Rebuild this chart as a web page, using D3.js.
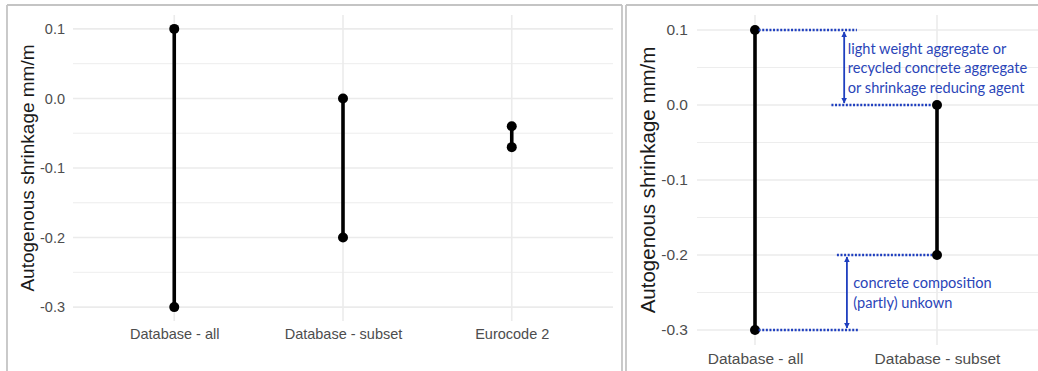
<!DOCTYPE html>
<html><head><meta charset="utf-8">
<script src="https://cdn.jsdelivr.net/npm/d3@7"></script>
<style>body{margin:0;background:#fff}svg{display:block}</style>
</head><body>
<script>
// ---- data ----
const categoriesLeft = ["Database - all", "Database - subset", "Eurocode 2"];
const maxLeft = [0.1, 0.0, -0.04];
const minLeft = [-0.3, -0.2, -0.07];
const categoriesRight = ["Database - all", "Database - subset"];
const maxRight = [0.1, 0.0];
const minRight = [-0.3, -0.2];
const yTicks = [0.1, 0.0, -0.1, -0.2, -0.3];
const yMinorTicks = [0.05, -0.05, -0.15, -0.25];
const yDomain = [-0.32, 0.12];
const yTitle = "Autogenous shrinkage mm/m";
const noteTop = ["light weight aggregate or", "recycled concrete aggregate", "or shrinkage reducing agent"];
const noteBottom = ["concrete composition", "(partly) unkown"];

const W = 1038, H = 371;
const svg = d3.select("body").append("svg").attr("width", W).attr("height", H);
const grid = "#ebebeb", tickCol = "#4d4d4d", border = "#c4c4c4", blue = "#1f3fbf";
const fmt = d3.format(".1f");

function panel(o) {
  const g = svg.append("g");
  const x = d3.scalePoint().domain(o.cats).range([o.x0, o.x1]).padding(o.pad);
  const y = d3.scaleLinear().domain(yDomain).range([o.y1, o.y0]);
  g.selectAll(".mn").data(yMinorTicks).join("line")
    .attr("x1", o.gx0).attr("x2", o.gx1).attr("y1", d => y(d)).attr("y2", d => y(d))
    .attr("stroke", grid).attr("stroke-width", 0.9);
  g.selectAll(".mj").data(yTicks).join("line")
    .attr("x1", o.gx0).attr("x2", o.gx1).attr("y1", d => y(d)).attr("y2", d => y(d))
    .attr("stroke", grid).attr("stroke-width", 1.6);
  g.selectAll(".vg").data(o.cats).join("line")
    .attr("x1", d => x(d)).attr("x2", d => x(d)).attr("y1", o.y0).attr("y2", o.y1)
    .attr("stroke", grid).attr("stroke-width", 1.6);
  const ya = g.append("g").attr("transform", `translate(${o.gx0},0)`)
    .call(d3.axisLeft(y).tickValues(yTicks).tickFormat(d => fmt(d).replace("−", "-")).tickSize(0).tickPadding(o.tpad));
  ya.select(".domain").remove();
  ya.selectAll("text").attr("fill", tickCol).style("font-family", "Liberation Sans, Arial, sans-serif").style("font-size", o.fs + "px");
  const xa = g.append("g").attr("transform", `translate(0,${o.y1})`)
    .call(d3.axisBottom(x).tickSize(0).tickPadding(o.xpad));
  xa.select(".domain").remove();
  xa.selectAll("text").attr("fill", tickCol).style("font-family", "Liberation Sans, Arial, sans-serif").style("font-size", o.fs + "px");
  g.append("text").attr("transform", `translate(${o.tx},${(o.y0 + o.y1) / 2}) rotate(-90)`)
    .attr("text-anchor", "middle").attr("dominant-baseline", "central")
    .attr("fill", "#1a1a1a").style("font-family", "Liberation Sans, Arial, sans-serif").style("font-size", o.tfs + "px")
    .text(yTitle);
  const rows = o.cats.map((c, i) => ({c, hi: o.hi[i], lo: o.lo[i]}));
  g.selectAll(".rg").data(rows).join("line")
    .attr("x1", d => x(d.c)).attr("x2", d => x(d.c)).attr("y1", d => y(d.hi)).attr("y2", d => y(d.lo))
    .attr("stroke", "#000").attr("stroke-width", 3.6);
  const pts = rows.flatMap(d => [{c: d.c, v: d.hi}, {c: d.c, v: d.lo}]);
  g.selectAll(".pt").data(pts).join("circle")
    .attr("cx", d => x(d.c)).attr("cy", d => y(d.v)).attr("r", 5).attr("fill", "#000");
  return {g, x, y};
}

const bl = [[7,5,622,5],[7,5,7,H],[622,5,622,H],[626,5,W,5],[626,5,626,H]];
svg.selectAll(".bd").data(bl).join("line")
  .attr("x1", d => d[0]).attr("y1", d => d[1]).attr("x2", d => d[2]).attr("y2", d => d[3])
  .attr("stroke", border).attr("stroke-width", 1.8);

panel({cats: categoriesLeft, hi: maxLeft, lo: minLeft, x0: 73, x1: 613, pad: 0.6,
  gx0: 73, gx1: 613, y0: 15, y1: 321, tpad: 8, xpad: 8, fs: 14.5, tfs: 19, tx: 27});

const R = panel({cats: categoriesRight, hi: maxRight, lo: minRight, x0: 697, x1: 995, pad: 58 / 182,
  gx0: 697, gx1: W, y0: 15, y1: 345, tpad: 9, xpad: 8, fs: 15.5, tfs: 20.5, tx: 647});

const xA = R.x(categoriesRight[0]), step = R.x.step();
const ax = f => xA + f * step;
const ann = svg.append("g");
const defs = svg.append("defs");
defs.append("marker").attr("id", "ah").attr("viewBox", "0 0 10 10").attr("refX", 9).attr("refY", 5)
  .attr("markerWidth", 3.2).attr("markerHeight", 3.2).attr("orient", "auto-start-reverse")
  .append("path").attr("d", "M0,0L10,5L0,10z").attr("fill", blue);
const dots = [
  {x1: ax(0.02), x2: ax(0.56), v: maxRight[0]},
  {x1: ax(0.42), x2: ax(1) - 5, v: maxRight[1]},
  {x1: ax(0.45), x2: ax(1) - 5, v: minRight[1]},
  {x1: ax(0.02), x2: ax(0.566), v: minRight[0]}
];
ann.selectAll(".dl").data(dots).join("line")
  .attr("x1", d => d.x1).attr("x2", d => d.x2).attr("y1", d => R.y(d.v)).attr("y2", d => R.y(d.v))
  .attr("stroke", blue).attr("stroke-width", 2.4).attr("stroke-dasharray", "2,1.6");
const arrows = [
  {x: ax(0.49), a: maxRight[0], b: maxRight[1]},
  {x: ax(0.505), a: minRight[1], b: minRight[0]}
];
ann.selectAll(".ar").data(arrows).join("line")
  .attr("x1", d => d.x).attr("x2", d => d.x).attr("y1", d => R.y(d.a) + 2).attr("y2", d => R.y(d.b) - 2)
  .attr("stroke", blue).attr("stroke-width", 1.8)
  .attr("marker-start", "url(#ah)").attr("marker-end", "url(#ah)");
function note(lines, xf, vmid) {
  const lh = 19.5, cy = R.y(vmid);
  ann.append("g").selectAll("text").data(lines).join("text")
    .attr("x", ax(xf)).attr("y", (d, i) => cy + (i - (lines.length - 1) / 2) * lh)
    .attr("dominant-baseline", "central")
    .attr("fill", "#2a45b8").style("font-family", "Lato, sans-serif").style("font-size", "14.6px")
    .text(d => d);
}
note(noteTop, 0.51, (maxRight[0] + maxRight[1]) / 2);
note(noteBottom, 0.54, (minRight[1] + minRight[0]) / 2);
</script>
</body></html>
